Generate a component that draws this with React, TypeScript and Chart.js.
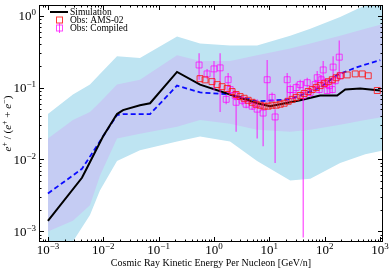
import React, { useEffect, useRef } from "react";
import { Chart, registerables } from "chart.js";

Chart.register(...registerables);

// ---------- data ----------
const bandX = [0.001, 0.00283, 0.00575, 0.0087, 0.0177, 0.046, 0.215, 0.56, 1.95, 6.0, 23.8, 55, 190, 540, 1150];
const outerHigh = [0.043, 0.080, 0.110, 0.155, 0.273, 0.257, 0.512, 0.411, 0.386, 0.386, 0.528, 0.658, 0.96, 1.40, 1.69];
const outerLow = [0.00012, 0.00072, 0.00168, 0.00369, 0.0095, 0.0134, 0.0178, 0.0208, 0.0178, 0.0095, 0.0051, 0.0054, 0.0089, 0.0118, 0.0134];
const innerHigh = [0.0195, 0.0355, 0.0456, 0.0624, 0.110, 0.1285, 0.282, 0.234, 0.234, 0.282, 0.351, 0.411, 0.528, 0.658, 0.770];
const innerLow = [0.00099, 0.0014, 0.00231, 0.00592, 0.0195, 0.0228, 0.0285, 0.0355, 0.0313, 0.0259, 0.0243, 0.0259, 0.0303, 0.0355, 0.039];

const simX = [0.001, 0.00412, 0.00529, 0.00988, 0.0177, 0.0227, 0.046, 0.070, 0.215, 0.561, 1.955, 6.02, 10.3, 36.1, 82.9, 168, 235, 438, 1008];
const simY = [0.0014, 0.00556, 0.0081, 0.0208, 0.0428, 0.0486, 0.0568, 0.0605, 0.165, 0.110, 0.0802, 0.0605, 0.0551, 0.0665, 0.0777, 0.0777, 0.0939, 0.0969, 0.0910];

const dashX = [0.001, 0.00412, 0.0080, 0.0177, 0.0227, 0.070, 0.215, 0.561, 1.955, 6.02, 23.8, 82.9, 168, 387, 1008];
const dashY = [0.00336, 0.0074, 0.0162, 0.0415, 0.0428, 0.0428, 0.1065, 0.0855, 0.0802, 0.0644, 0.0686, 0.100, 0.150, 0.193, 0.241];

const amsX = [0.56, 0.69, 0.92, 1.14, 1.40, 1.73, 2.12, 2.51, 2.96, 3.50, 4.14, 4.89, 5.77, 6.82, 8.05, 9.51, 11.2, 13.3, 15.7, 18.5, 21.9, 25.8, 30.5, 36.1, 42.6, 50.3, 59.4, 70.2, 82.9, 98, 116, 137, 161, 191, 255, 356, 477, 612, 890];
const amsY = [0.133, 0.128, 0.121, 0.110, 0.103, 0.097, 0.088, 0.080, 0.075, 0.071, 0.0665, 0.0624, 0.0586, 0.0568, 0.0551, 0.0551, 0.0568, 0.0568, 0.0586, 0.0605, 0.0644, 0.0686, 0.073, 0.0777, 0.0828, 0.0882, 0.0939, 0.100, 0.1065, 0.1134, 0.1207, 0.1285, 0.137, 0.146, 0.150, 0.155, 0.155, 0.146, 0.091];

const compX = [0.538, 0.750, 1.00, 1.29, 1.66, 1.80, 1.96, 2.41, 2.51, 3.22, 3.81, 4.89, 6.02, 7.72, 9.13, 11.2, 12.7, 21.0, 23.8, 26.9, 30.5, 36.1, 40.9, 48.3, 54.7, 67.3, 73.2, 79.5, 86.4, 93.9, 102, 111, 121, 137, 142, 155, 183, 191];
const compY = [0.206, 0.155, 0.182, 0.188, 0.0686, 0.1285, 0.0939, 0.0777, 0.0624, 0.0665, 0.0586, 0.0551, 0.0501, 0.0442, 0.1285, 0.073, 0.039, 0.1285, 0.0939, 0.0777, 0.100, 0.110, 0.0777, 0.117, 0.0855, 0.110, 0.137, 0.0939, 0.1285, 0.176, 0.117, 0.091, 0.1065, 0.0939, 0.193, 0.1246, 0.265, 0.146];
const compHi = [0.300, 0.182, 0.234, 0.300, 0.0802, 0.160, 0.110, 0.091, 0.0777, 0.0754, 0.0665, 0.0624, 0.0686, 0.0624, 0.241, 0.0855, 0.0501, 0.160, 0.110, 0.0882, 0.117, 0.1285, 0.1246, 0.137, 0.100, 0.1285, 0.1705, 0.1065, 0.150, 0.234, 0.1327, 0.1032, 0.1207, 0.1065, 0.273, 0.146, 0.452, 0.165];
const compLo = [0.1285, 0.1327, 0.091, 0.0456, 0.0586, 0.1032, 0.0802, 0.0665, 0.0243, 0.0568, 0.0517, 0.0486, 0.0195, 0.0152, 0.0624, 0.0624, 0.0089, 0.0624, 0.0802, 0.0686, 0.0855, 0.0939, 0.00082, 0.100, 0.073, 0.0939, 0.110, 0.0828, 0.110, 0.1285, 0.1032, 0.0828, 0.0939, 0.0828, 0.1285, 0.1065, 0.146, 0.1285];

const xExponents = [-3, -2, -1, 0, 1, 2, 3];
const yExponents = [-3, -2, -1, 0];
const xTitle = "Cosmic Ray Kinetic Energy Per Nucleon [GeV/n]";
const legendLabels = ["Simulation", "Obs: AMS-02", "Obs: Compiled"];

// ---------- styling ----------
const FONT = "'Liberation Serif', 'DejaVu Serif', serif";
const OUTER = "rgb(190,228,242)";
const INNER = "rgb(197,204,243)";
const RED = "rgba(255,20,20,0.85)";
const MAG = "rgba(255,0,255,0.72)";

const pts = (xs: number[], ys: number[]) => xs.map((x, i) => ({ x, y: ys[i] }));

function drawPow(ctx: CanvasRenderingContext2D, exp: number, x: number, y: number, align: "center" | "right") {
  const base = "10";
  const sup = exp < 0 ? "\u2212" + -exp : String(exp);
  ctx.font = `13px ${FONT}`;
  const wb = ctx.measureText(base).width;
  ctx.font = `9px ${FONT}`;
  const ws = ctx.measureText(sup).width;
  const total = wb + ws;
  const x0 = align === "center" ? x - total / 2 : x - total;
  ctx.textAlign = "left";
  ctx.textBaseline = "alphabetic";
  ctx.font = `13px ${FONT}`;
  ctx.fillText(base, x0, y);
  ctx.font = `9px ${FONT}`;
  ctx.fillText(sup, x0 + wb, y - 5);
}

const decorPlugin = {
  id: "decor",
  afterDraw(chart: any) {
    const { ctx, chartArea: a, scales } = chart;
    const xs = scales.x;
    const ys = scales.y;
    ctx.save();
    ctx.fillStyle = "#000";
    ctx.strokeStyle = "#000";
    ctx.lineWidth = 1;
    const L = Math.round(a.left), R = Math.round(a.right), T = Math.round(a.top), B = Math.round(a.bottom);
    ctx.strokeRect(L + 0.5, T + 0.5, R - L - 1, B - T - 1);

    // ticks (inward, all sides)
    ctx.beginPath();
    for (let d = -4; d <= 3; d++) {
      for (let m = 1; m <= 9; m++) {
        const v = m * Math.pow(10, d);
        if (v >= xs.min && v <= xs.max) {
          const px = Math.round(xs.getPixelForValue(v)) + 0.5;
          const len = m === 1 ? 5 : 2.5;
          ctx.moveTo(px, B); ctx.lineTo(px, B - len);
          ctx.moveTo(px, T); ctx.lineTo(px, T + len);
        }
        if (v >= ys.min && v <= ys.max) {
          const py = Math.round(ys.getPixelForValue(v)) + 0.5;
          const len = m === 1 ? 5 : 2.5;
          ctx.moveTo(L, py); ctx.lineTo(L + len, py);
          ctx.moveTo(R, py); ctx.lineTo(R - len, py);
        }
      }
    }
    ctx.stroke();

    // tick labels
    xExponents.forEach((e) => drawPow(ctx, e, xs.getPixelForValue(Math.pow(10, e)), 254, "center"));
    yExponents.forEach((e) => drawPow(ctx, e, 36, ys.getPixelForValue(Math.pow(10, e)) + 4.5, "right"));

    // x title
    ctx.font = `10px ${FONT}`;
    ctx.textAlign = "center";
    ctx.textBaseline = "alphabetic";
    ctx.fillText(xTitle, (L + R) / 2, 266);

    // y title (rotated, with superscripts)
    const runs = [
      { t: "e", f: `italic 11px ${FONT}`, dy: 0 },
      { t: "+", f: `8px ${FONT}`, dy: -4.5 },
      { t: " / (", f: `11px ${FONT}`, dy: 0 },
      { t: "e", f: `italic 11px ${FONT}`, dy: 0 },
      { t: "+", f: `8px ${FONT}`, dy: -4.5 },
      { t: " + ", f: `11px ${FONT}`, dy: 0 },
      { t: "e", f: `italic 11px ${FONT}`, dy: 0 },
      { t: "\u2212", f: `8px ${FONT}`, dy: -4.5 },
      { t: ")", f: `11px ${FONT}`, dy: 0 },
    ];
    let total = 0;
    runs.forEach((r) => { ctx.font = r.f; total += ctx.measureText(r.t).width; });
    ctx.translate(11, (T + B) / 2);
    ctx.rotate(-Math.PI / 2);
    ctx.textAlign = "left";
    let cx = -total / 2;
    runs.forEach((r) => { ctx.font = r.f; ctx.fillText(r.t, cx, r.dy); cx += ctx.measureText(r.t).width; });
    ctx.setTransform(1, 0, 0, 1, 0, 0);

    // legend
    const lx = 50, tx = 70;
    const rows = [12, 20, 28];
    ctx.lineWidth = 2;
    ctx.strokeStyle = "#000";
    ctx.beginPath(); ctx.moveTo(lx, rows[0]); ctx.lineTo(lx + 18, rows[0]); ctx.stroke();
    ctx.lineWidth = 1;
    ctx.strokeStyle = RED;
    ctx.strokeRect(56.5, rows[1] - 3, 6, 6);
    ctx.strokeStyle = MAG;
    ctx.strokeRect(56.5, rows[2] - 3, 6, 6);
    ctx.beginPath(); ctx.moveTo(59.5, rows[2] - 5); ctx.lineTo(59.5, rows[2] + 5); ctx.stroke();
    ctx.fillStyle = "#000";
    ctx.font = `9.5px ${FONT}`;
    ctx.textAlign = "left";
    ctx.textBaseline = "middle";
    legendLabels.forEach((s, i) => ctx.fillText(s, tx, rows[i] + 0.5));
    ctx.restore();
  },
};

export default function App() {
  const ref = useRef<HTMLCanvasElement | null>(null);
  useEffect(() => {
    if (!ref.current) return;
    const errData: any[] = [];
    compX.forEach((x, i) => {
      errData.push({ x, y: compLo[i] }, { x, y: compHi[i] }, { x, y: null });
    });
    const line = { pointRadius: 0, tension: 0, fill: false };
    const chart = new Chart(ref.current, {
      type: "line",
      data: {
        datasets: [
          { ...line, label: "outerLow", data: pts(bandX, outerLow), borderColor: "transparent", borderWidth: 0, order: 100 },
          { ...line, label: "outerHigh", data: pts(bandX, outerHigh), borderColor: "transparent", borderWidth: 0, fill: "-1", backgroundColor: OUTER, order: 99 },
          { ...line, label: "innerLow", data: pts(bandX, innerLow), borderColor: "transparent", borderWidth: 0, order: 98 },
          { ...line, label: "innerHigh", data: pts(bandX, innerHigh), borderColor: "transparent", borderWidth: 0, fill: "-1", backgroundColor: INNER, order: 97 },
          { ...line, label: "dashed", data: pts(dashX, dashY), borderColor: "#0a0aff", borderWidth: 1.8, borderDash: [5, 3], order: 96 },
          { ...line, label: legendLabels[0], data: pts(simX, simY), borderColor: "#000", borderWidth: 2, order: 95 },
          { ...line, label: "errors", data: errData, borderColor: MAG, borderWidth: 1.2, spanGaps: false, order: 94 },
          { label: legendLabels[2], data: pts(compX, compY), showLine: false, pointStyle: "rect", pointRadius: 4.2, pointBorderWidth: 1, pointBorderColor: MAG, pointBackgroundColor: "transparent", order: 93 },
          { label: legendLabels[1], data: pts(amsX, amsY), showLine: false, pointStyle: "rect", pointRadius: 4.2, pointBorderWidth: 1, pointBorderColor: RED, pointBackgroundColor: "transparent", order: 92 },
        ] as any,
      },
      options: {
        animation: false,
        responsive: false,
        devicePixelRatio: 1,
        layout: { padding: { left: 0, right: 7, top: 1, bottom: 0 } },
        scales: {
          x: {
            type: "logarithmic", min: 6.9e-4, max: 1.13e3,
            grid: { display: false }, border: { display: false }, ticks: { display: false },
            afterFit: (s: any) => { s.height = 28; },
          },
          y: {
            type: "logarithmic", min: 7.1e-4, max: 1.4,
            grid: { display: false }, border: { display: false }, ticks: { display: false },
            afterFit: (s: any) => { s.width = 39; },
          },
        },
        plugins: { legend: { display: false }, tooltip: { enabled: false } },
      } as any,
      plugins: [decorPlugin],
    });
    return () => chart.destroy();
  }, []);
  return (
    <div style={{ position: "absolute", left: 0, top: 0, width: 390, height: 270, background: "#fff" }}>
      <canvas ref={ref} width={390} height={270} style={{ display: "block", width: 390, height: 270 }} />
    </div>
  );
}
